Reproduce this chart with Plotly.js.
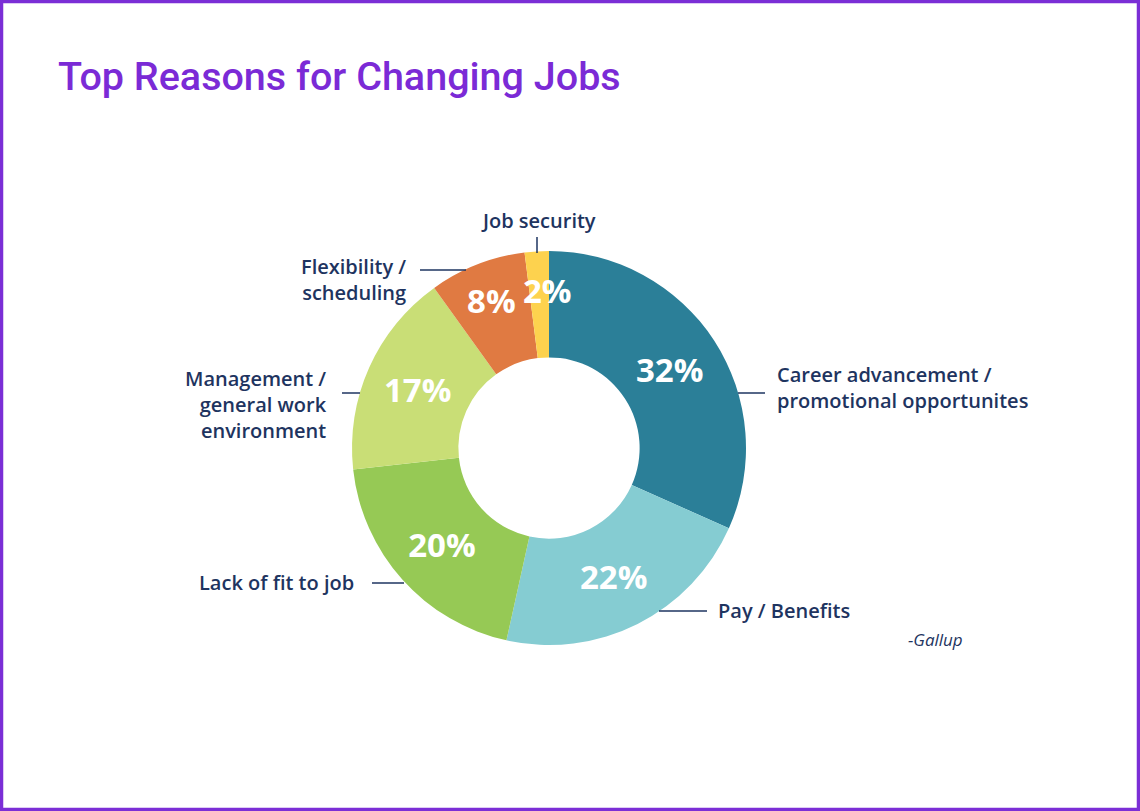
<!DOCTYPE html>
<html>
<head>
<meta charset="utf-8">
<script src="https://cdn.plot.ly/plotly-3.0.1.min.js"></script>
<style>
  html, body { margin: 0; padding: 0; background: #fff; }
  #chart { width: 1140px; height: 811px; }
</style>
</head>
<body>
<div id="chart"></div>
<script>
const W = 1140, H = 811;

const reasons = [
  'Career advancement /<br>promotional opportunites',
  'Pay / Benefits',
  'Lack of fit to job',
  'Management /<br>general work<br>environment',
  'Flexibility /<br>scheduling',
  'Job security'
];
const shares = [32, 22, 20, 17, 8, 2];
const sliceColors = ['#2b7f98', '#85ccd2', '#96c955', '#c9de76', '#e07a42', '#fdd24e'];

// label placement in pixels: text anchor point, side, leader line ends
const labelSpots = [
  { x: 776, y: 387, anchor: 'left',   line: [738, 393, 765, 393] },
  { x: 717, y: 610, anchor: 'left',   line: [659, 611, 707, 611] },
  { x: 355, y: 582, anchor: 'right',  line: [372, 583, 404, 583] },
  { x: 328, y: 404, anchor: 'right',  line: [342, 393, 360, 393] },
  { x: 407, y: 280, anchor: 'right',  line: [420, 270, 466, 270] },
  { x: 538, y: 220, anchor: 'center', line: [537, 237, 537, 253] }
];

const px = v => v / W;
const py = v => 1 - v / H;
const navy = '#1e3460';

// donut geometry in pixels (matches the pie domain below)
const cx = 549, cy = 448, rOut = 197;

// the tiny last slice cannot hold its text, so it is drawn as an annotation
const lastIdx = shares.length - 1;
const textPos = shares.map((v, i) => (i === lastIdx ? 'none' : 'inside'));

const trace = {
  type: 'pie',
  labels: reasons,
  values: shares,
  hole: 0.46,
  sort: false,
  direction: 'clockwise',
  rotation: 0,
  marker: { colors: sliceColors, line: { width: 0 } },
  texttemplate: '%{value}%',
  textposition: textPos,
  insidetextorientation: 'horizontal',
  textfont: { family: 'Open Sans', size: 33, color: '#ffffff', weight: 'bold' },
  domain: { x: [px(cx - rOut), px(cx + rOut)], y: [py(cy + rOut), py(cy - rOut)] },
  showlegend: false,
  hoverinfo: 'label+percent'
};

const annotations = labelSpots.map((s, i) => ({
  xref: 'paper', yref: 'paper',
  x: px(s.x), y: py(s.y),
  xanchor: s.anchor, yanchor: 'middle',
  align: s.anchor === 'center' ? 'center' : s.anchor,
  text: reasons[i],
  showarrow: false,
  borderpad: 0,
  font: { family: 'Open Sans', size: 20, color: navy, weight: 600 }
}));

// text for the last slice, placed at its mid angle
const total = shares.reduce((a, b) => a + b, 0);
const before = shares.slice(0, lastIdx).reduce((a, b) => a + b, 0);
const midAng = 2 * Math.PI * (before + shares[lastIdx] / 2) / total;
const rText = 158;
annotations.push({
  xref: 'paper', yref: 'paper',
  x: px(cx + rText * Math.sin(midAng)), y: py(cy - rText * Math.cos(midAng)),
  xshift: 8,
  xanchor: 'center', yanchor: 'middle',
  text: shares[lastIdx] + '%', showarrow: false,
  font: { family: 'Open Sans', size: 33, color: '#ffffff', weight: 'bold' }
});

annotations.push({
  xref: 'paper', yref: 'paper',
  x: px(965), y: py(639), xanchor: 'right', yanchor: 'middle',
  text: '<i>-Gallup</i>', showarrow: false,
  font: { family: 'Open Sans', size: 17, color: navy }
});

const shapes = labelSpots.map(s => ({
  type: 'line', xref: 'paper', yref: 'paper',
  x0: px(s.line[0]), y0: py(s.line[1]), x1: px(s.line[2]), y1: py(s.line[3]),
  line: { color: navy, width: 1.5 }
}));

// purple frame
shapes.push({
  type: 'rect', xref: 'paper', yref: 'paper',
  x0: px(1.5), y0: py(809.5), x1: px(1138.5), y1: py(1.5),
  line: { color: '#7b2ed6', width: 3.5 }
});

const layout = {
  width: W, height: H,
  margin: { l: 0, r: 0, t: 0, b: 0 },
  paper_bgcolor: '#ffffff',
  title: {
    text: 'Top Reasons for Changing Jobs',
    x: px(58), xanchor: 'left',
    y: py(76), yanchor: 'middle',
    font: { family: 'Roboto', size: 39.5, color: '#7b2ad6', weight: 500 }
  },
  uniformtext: { mode: 'show', minsize: 33 },
  annotations,
  shapes
};

Plotly.newPlot('chart', [trace], layout, { displayModeBar: false });
</script>
</body>
</html>
